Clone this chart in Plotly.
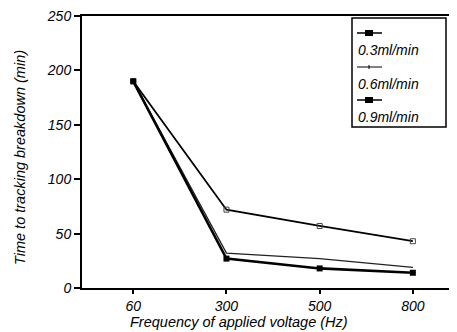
import plotly.graph_objects as go

freq = ["60", "300", "500", "800"]
s03 = [190, 72, 57, 43]
s06 = [190, 32, 27, 19]
s09 = [190, 27, 18, 14]
names = ["0.3ml/min", "0.6ml/min", "0.9ml/min"]
y_ticks = [0, 50, 100, 150, 200, 250]
x_title = "Frequency of applied voltage (Hz)"
y_title = "Time to tracking breakdown (min)"

fnt = dict(family="Liberation Sans, Arial, sans-serif", color="black")

fig = go.Figure()
fig.add_trace(go.Scatter(x=freq, y=s03, mode="lines+markers", name=names[0],
                         line=dict(color="black", width=1.8),
                         marker=dict(symbol="square-open", size=5, color="#444",
                                     line=dict(width=1))))
fig.add_trace(go.Scatter(x=freq, y=s06, mode="lines", name=names[1],
                         line=dict(color="#222", width=1.3)))
fig.add_trace(go.Scatter(x=freq, y=s09, mode="lines+markers", name=names[2],
                         line=dict(color="black", width=2.6),
                         marker=dict(symbol="square", size=6, color="black")))

# page body has an 8px margin, so the figure is drawn 8px smaller
W, H = 449, 332 - 8
ml, mr, mt, mb = 74, 5, 8, 44
# plot area in page pixels: x 82..452, y 16..288
TOP, BOT = 16, 288
def px(x):
    return (x - 82) / 370
def py(y):
    return 1 - (y - TOP) / (BOT - TOP)

# custom legend box (sample line above label)
fig.add_shape(type="rect", xref="paper", yref="paper",
              x0=px(352), x1=px(446), y0=py(127), y1=py(18),
              line=dict(color="black", width=1.5), fillcolor="white")
rows = [(33, 50), (67, 84), (100, 117)]
for i, (ly, ty) in enumerate(rows):
    fig.add_shape(type="line", xref="paper", yref="paper",
                  x0=px(357), x1=px(382), y0=py(ly), y1=py(ly),
                  line=dict(color="black", width=1.5 if i != 1 else 1))
    if i != 1:
        fig.add_shape(type="rect", xref="paper", yref="paper",
                      x0=px(365), x1=px(373), y0=py(ly + 3), y1=py(ly - 3),
                      line=dict(color="black", width=0), fillcolor="black")
    else:
        fig.add_shape(type="line", xref="paper", yref="paper",
                      x0=px(369), x1=px(369), y0=py(ly + 2), y1=py(ly - 2),
                      line=dict(color="black", width=1))
    fig.add_annotation(xref="paper", yref="paper", x=px(356), y=py(ty),
                       xanchor="left", yanchor="middle", showarrow=False,
                       text="<i>" + names[i] + "</i>", font=dict(size=14, **fnt))

# axis titles
fig.add_annotation(xref="paper", yref="paper", x=px(239), y=py(322),
                   xanchor="center", yanchor="middle", showarrow=False,
                   text="<i>" + x_title + "</i>", font=dict(size=14.5, **fnt))
fig.add_annotation(xref="paper", yref="paper", x=px(20), y=py(158),
                   xanchor="center", yanchor="middle", showarrow=False, textangle=-90,
                   text="<i>" + y_title + "</i>", font=dict(size=14.5, **fnt))

fig.update_layout(
    width=W, height=H, margin=dict(l=ml, r=mr, t=mt, b=mb, autoexpand=False),
    paper_bgcolor="white", plot_bgcolor="white", showlegend=False,
    font=fnt,
)
fig.update_xaxes(type="category", range=[-0.55, 3.42], showgrid=False, automargin=False,
                 showline=True, linecolor="black", linewidth=2, mirror=True,
                 ticks="outside", ticklen=4, tickcolor="black", tickwidth=1.5,
                 tickvals=freq, ticktext=["<i>%s</i>" % f for f in freq],
                 tickfont=dict(size=14, **fnt))
fig.update_yaxes(range=[0, 250], tickvals=y_ticks, ticktext=["<i>%d</i>" % v for v in y_ticks],
                 showgrid=False, zeroline=False, automargin=False,
                 ticklabeloverflow="allow",
                 showline=True, linecolor="black", linewidth=2,
                 ticks="outside", ticklen=6, tickcolor="black", tickwidth=1.5,
                 tickfont=dict(size=14, **fnt))

fig.write_html("out.html")
